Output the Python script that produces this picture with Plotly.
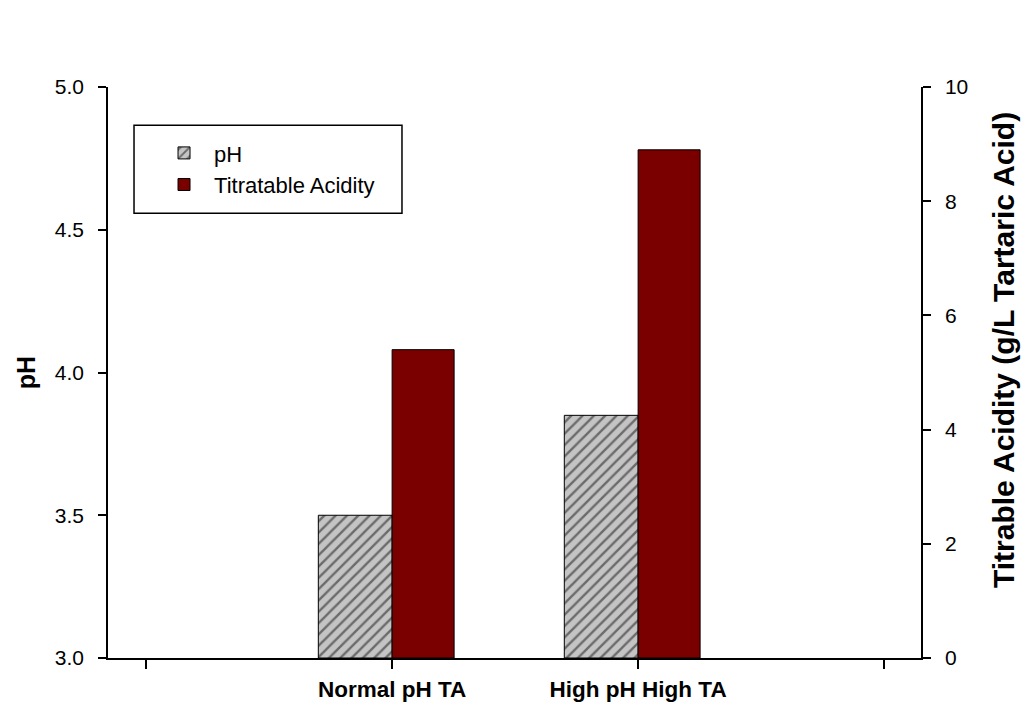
import plotly.graph_objects as go

categories = ["Normal pH TA", "High pH High TA"]
ph_values = [3.50, 3.85]
ta_values = [5.4, 8.9]
left_ticks = [3.0, 3.5, 4.0, 4.5, 5.0]
right_ticks = [0, 2, 4, 6, 8, 10]

positions = [i + 1 for i in range(len(categories))]
tick_positions = [0] + positions + [len(categories) + 1]
tick_text = [""] + categories + [""]

FONT = "Liberation Sans, Arial, sans-serif"

fig = go.Figure()
fig.add_trace(go.Bar(
    x=positions, y=[v - 3.0 for v in ph_values], base=3.0,
    name="pH", offset=-0.30, width=0.30,
    marker=dict(color="#c4c4c4", line=dict(color="black", width=1),
                pattern=dict(shape="/", fgcolor="#111111", bgcolor="#c4c4c4",
                             size=8, solidity=0.3)),
    yaxis="y",
))
fig.add_trace(go.Bar(
    x=positions, y=ta_values, name="Titratable Acidity",
    offset=0.0, width=0.252,
    marker=dict(color="#7a0000", line=dict(color="black", width=1)),
    yaxis="y2",
))

fig.update_layout(
    width=1024, height=706,
    margin=dict(l=108, r=103, t=87, b=48, autoexpand=False),
    paper_bgcolor="white", plot_bgcolor="white",
    barmode="overlay",
    font=dict(family=FONT, size=21, color="black"),
    showlegend=True,
    legend=dict(x=0.0566, y=0.921, xanchor="left", yanchor="top",
                bgcolor="rgba(0,0,0,0)", borderwidth=0,
                font=dict(size=22), itemwidth=50),
    xaxis=dict(range=[-0.155, 3.15], tickmode="array", tickvals=tick_positions,
               ticktext=tick_text, showline=True, linecolor="black", linewidth=1.5,
               ticks="outside", ticklen=9, tickcolor="black", tickwidth=1.5,
               showgrid=False, zeroline=False, ticklabelstandoff=1,
               automargin=False,
               tickfont=dict(family=FONT, size=22.5, weight="bold")),
    yaxis=dict(range=[3.0, 5.0], tickmode="array", tickvals=left_ticks,
               tickformat=".1f", showline=True, linecolor="black", linewidth=1.5,
               ticks="outside", ticklen=8, tickcolor="black", tickwidth=1.5,
               showgrid=False, zeroline=False, ticklabelstandoff=10,
               automargin=False,
               title=dict(text="<b>pH</b>", standoff=12,
                          font=dict(family=FONT, size=25))),
    yaxis2=dict(range=[0, 10], tickmode="array", tickvals=right_ticks,
                overlaying="y", side="right", showline=True, linecolor="black",
                linewidth=1.5, ticks="outside", ticklen=8, tickcolor="black",
                tickwidth=1.5, showgrid=False, zeroline=False, ticklabelstandoff=10,
                automargin=False),
    annotations=[dict(text="<b>Titrable Acidity (g/L Tartaric Acid)</b>",
                      xref="paper", yref="paper", x=1.1009, y=0.5394,
                      xanchor="center", yanchor="middle", textangle=-90,
                      showarrow=False, font=dict(family=FONT, size=30))],
    shapes=[dict(type="rect", xref="paper", yref="paper",
                 x0=0.032, x1=0.3616, y0=0.779, y1=0.933,
                 line=dict(color="black", width=1.5), fillcolor="rgba(0,0,0,0)")],
)

fig.write_html("out.html")
